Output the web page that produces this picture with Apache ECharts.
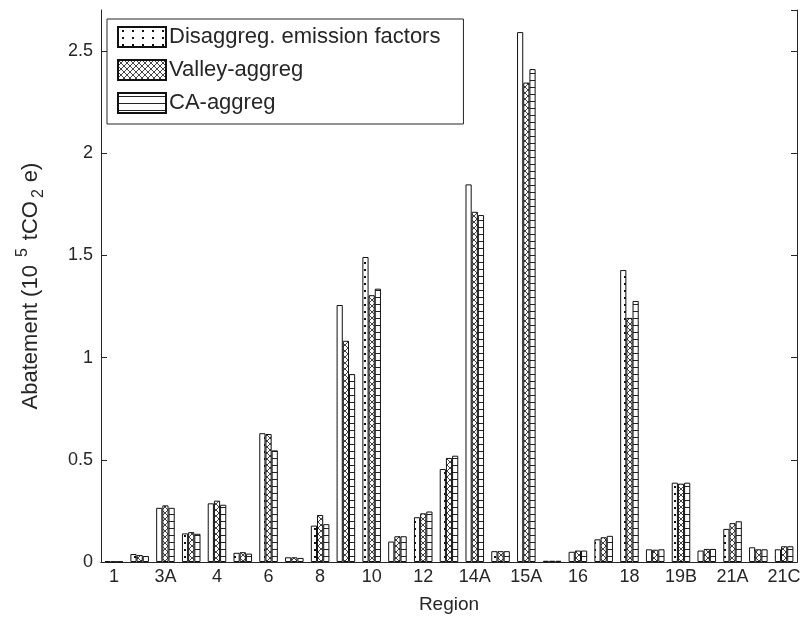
<!DOCTYPE html>
<html>
<head>
<meta charset="utf-8">
<script src="https://cdn.jsdelivr.net/npm/echarts@6/dist/echarts.min.js"></script>
<style>
  html, body { margin: 0; padding: 0; background: #fff; }
  #chart { width: 806px; height: 628px; }
</style>
</head>
<body>
<div id="chart"></div>
<script>
// Regions (every other one is labelled on the axis)
const categories = ['1', '2', '3A', '3B', '4', '5', '6', '7', '8', '9', '10', '11', '12', '13',
  '14A', '14B', '15A', '15B', '16', '17', '18', '19A', '19B', '20', '21A', '21B', '21C'];

// Abatement, 10^5 tCO2e
const disaggreg = [0.004, 0.039, 0.265, 0.140, 0.287, 0.045, 0.630, 0.023, 0.178, 1.257, 1.492, 0.100, 0.219, 0.455,
  1.847, 0.053, 2.592, 0.006, 0.050, 0.111, 1.428, 0.062, 0.388, 0.056, 0.162, 0.072, 0.062];
const valleyAggreg = [0.002, 0.034, 0.277, 0.146, 0.300, 0.048, 0.626, 0.023, 0.230, 1.082, 1.305, 0.126, 0.238, 0.509,
  1.713, 0.053, 2.345, 0.006, 0.056, 0.121, 1.194, 0.060, 0.383, 0.064, 0.190, 0.062, 0.077];
const caAggreg = [0.002, 0.029, 0.265, 0.138, 0.280, 0.041, 0.546, 0.020, 0.185, 0.919, 1.337, 0.126, 0.247, 0.520,
  1.697, 0.053, 2.411, 0.006, 0.056, 0.128, 1.277, 0.062, 0.388, 0.064, 0.199, 0.062, 0.077];

const seriesNames = ['Disaggreg. emission factors', 'Valley-aggreg', 'CA-aggreg'];

// Hatch fills drawn on small tiles
function makePattern(w, h, draw) {
  const c = document.createElement('canvas');
  c.width = w; c.height = h;
  const ctx = c.getContext('2d');
  ctx.fillStyle = '#fff';
  ctx.fillRect(0, 0, w, h);
  draw(ctx);
  return { image: c, repeat: 'repeat' };
}
const dotFill = makePattern(10, 7, ctx => {
  ctx.fillStyle = '#111';
  ctx.fillRect(4, 3, 2, 2);
});
const crossFill = makePattern(6, 6, ctx => {
  ctx.strokeStyle = '#444';
  ctx.lineWidth = 1;
  ctx.beginPath();
  ctx.moveTo(0, 0); ctx.lineTo(6, 6);
  ctx.moveTo(6, 0); ctx.lineTo(0, 6);
  ctx.stroke();
});
const lineFill = makePattern(4, 7, ctx => {
  ctx.fillStyle = '#222';
  ctx.fillRect(0, 3, 4, 1);
});

const ink = '#262626';
const font = 'Liberation Sans, Arial, sans-serif';

function barSeries(name, data, fill) {
  return {
    name: name,
    type: 'bar',
    data: data,
    barWidth: '24%',
    barGap: '0%',
    xAxisIndex: 0,
    yAxisIndex: 0,
    itemStyle: { color: fill, borderColor: '#111', borderWidth: 1 },
    emphasis: { disabled: true }
  };
}

const chart = echarts.init(document.getElementById('chart'), null, { renderer: 'canvas' });
chart.setOption({
  animation: false,
  backgroundColor: '#fff',
  textStyle: { fontFamily: font },
  grid: { left: 101, right: 9, top: 10, bottom: 66 },
  legend: {
    left: 107,
    top: 19,
    orient: 'vertical',
    icon: 'rect',
    itemWidth: 48,
    itemHeight: 20,
    itemGap: 11,
    padding: [7, 23, 10, 10],
    borderColor: ink,
    borderWidth: 1,
    backgroundColor: '#fff',
    selectedMode: false,
    textStyle: { fontSize: 22, color: ink, fontFamily: font, padding: [0, 0, 0, -2] },
    data: seriesNames
  },
  xAxis: [
    {
      type: 'category',
      data: categories,
      position: 'bottom',
      name: 'Region',
      nameLocation: 'middle',
      nameGap: 33,
      nameTextStyle: { fontSize: 19, color: ink, fontFamily: font },
      axisLine: { lineStyle: { color: ink, width: 1 } },
      axisTick: { inside: true, length: 6, interval: 1, alignWithLabel: true, lineStyle: { color: ink } },
      axisLabel: { interval: 1, fontSize: 18, color: ink, margin: 6, fontFamily: font },
      splitLine: { show: false }
    },
    {
      type: 'category',
      data: categories,
      position: 'top',
      axisLine: { lineStyle: { color: ink, width: 1 } },
      axisTick: { inside: true, length: 6, interval: 1, alignWithLabel: true, lineStyle: { color: ink } },
      axisLabel: { show: false },
      splitLine: { show: false }
    }
  ],
  yAxis: [
    {
      type: 'value',
      min: 0,
      max: 2.7,
      interval: 0.5,
      position: 'left',
      name: '{a|Abatement (10}{sup|5}{a|tCO}{sub|2}{a|e)}',
      nameLocation: 'middle',
      nameGap: 54,
      nameRotate: 90,
      nameTextStyle: {
        color: ink,
        fontFamily: font,
        rich: {
          a: { fontSize: 22, lineHeight: 32, color: ink, fontFamily: font },
          sup: { fontSize: 16, lineHeight: 16, verticalAlign: 'top', color: ink, fontFamily: font, padding: [0, 8, 0, 8] },
          sub: { fontSize: 16, lineHeight: 16, verticalAlign: 'bottom', color: ink, fontFamily: font, padding: [0, 7, 0, 3] }
        }
      },
      axisLine: { show: true, lineStyle: { color: ink, width: 1 } },
      axisTick: { show: true, inside: true, length: 6, lineStyle: { color: ink } },
      axisLabel: { fontSize: 18, color: ink, margin: 8, showMaxLabel: false, fontFamily: font },
      splitLine: { show: false }
    },
    {
      type: 'value',
      min: 0,
      max: 2.7,
      interval: 0.5,
      position: 'right',
      axisLine: { show: true, lineStyle: { color: ink, width: 1 } },
      axisTick: { show: true, inside: true, length: 6, lineStyle: { color: ink } },
      axisLabel: { show: false },
      splitLine: { show: false }
    }
  ],
  series: [
    barSeries(seriesNames[0], disaggreg, dotFill),
    barSeries(seriesNames[1], valleyAggreg, crossFill),
    barSeries(seriesNames[2], caAggreg, lineFill)
  ]
});
</script>
</body>
</html>
